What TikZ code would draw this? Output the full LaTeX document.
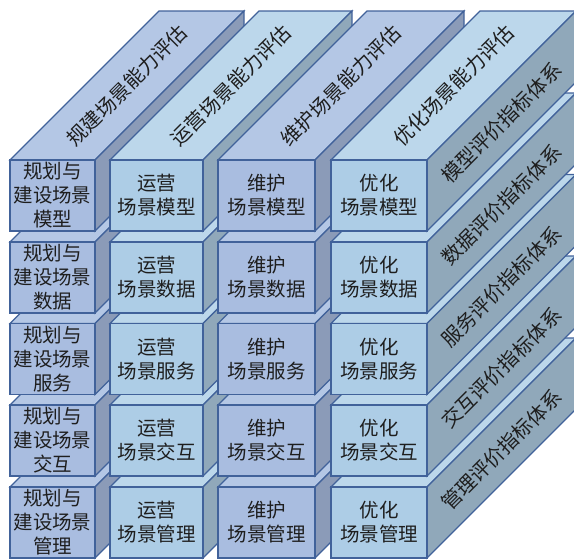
\documentclass[tikz,border=0pt]{standalone}
\usepackage{fontspec}
\newfontfamily\cjk{Noto Sans CJK SC}
\definecolor{frontA}{HTML}{A9BDE0}
\definecolor{frontB}{HTML}{ADCDE6}
\definecolor{topA}{HTML}{B4C7E5}
\definecolor{topB}{HTML}{BCD7EB}
\definecolor{sideA}{HTML}{8B9BB8}
\definecolor{sideB}{HTML}{90A8BA}
\definecolor{edge}{HTML}{41629A}
\definecolor{ink}{HTML}{1E1E1E}
\tikzset{
  face/.style={draw=edge, line width=1.1pt, line join=miter},
  fronttext/.style={align=center, text=ink, inner sep=0pt,
    font=\cjk\fontsize{19.5}{24}\selectfont},
  slanttext/.style={text=ink, inner sep=0pt, rotate=45,
    font=\cjk\fontsize{20}{24}\selectfont},
}
\begin{document}
\begin{tikzpicture}[x=1pt,y=-1pt]
\useasboundingbox (0,0) rectangle (574,560);
\fill[white] (0,0) rectangle (574,560);
\clip (0,0) rectangle (574,560);
\def\D{149}
\foreach \r/\ya/\cat/\side in {5/487/管理/管理评价指标体系, 4/405/交互/交互评价指标体系, 3/323.5/服务/服务评价指标体系, 2/242/数据/数据评价指标体系, 1/160/模型/模型评价指标体系}{
  \foreach \c/\xa/\xb/\fr/\tp/\sd/\txt/\toptxt in {
      1/10/95/frontA/topA/sideA/{规划与\\建设场景\\\cat}/规建场景能力评估,
      2/110/203/frontB/topB/sideB/{运营\\场景\cat}/运营场景能力评估,
      3/218/315/frontA/topA/sideA/{维护\\场景\cat}/维护场景能力评估,
      4/331/427/frontB/topB/sideB/{优化\\场景\cat}/优化场景能力评估}{
    \pgfmathsetmacro\yb{\ya+71}
    \fill[face, fill=\tp] (\xa,\ya) -- (\xb,\ya) -- (\xb+\D,\ya-\D) -- (\xa+\D,\ya-\D) -- cycle;
    \fill[face, fill=\sd] (\xb,\ya) -- (\xb,\yb) -- (\xb+\D,\yb-\D) -- (\xb+\D,\ya-\D) -- cycle;
    \fill[face, fill=\fr] (\xa,\ya) rectangle (\xb,\yb);
    \node[fronttext] (f\r\c) at ({(\xa+\xb)/2},{(\ya+\yb)/2}) {\txt};
    \ifnum\r=1
      \node[slanttext] (t\c) at ({(\xa+\xb)/2+\D/2},{\ya-\D/2}) {\toptxt};
    \fi
    \ifnum\c=4
      \node[slanttext] (s\r) at ({\xb+\D/2},{(\ya+\yb)/2-\D/2+2}) {\side};
    \fi
  }
}
\end{tikzpicture}
\end{document}
